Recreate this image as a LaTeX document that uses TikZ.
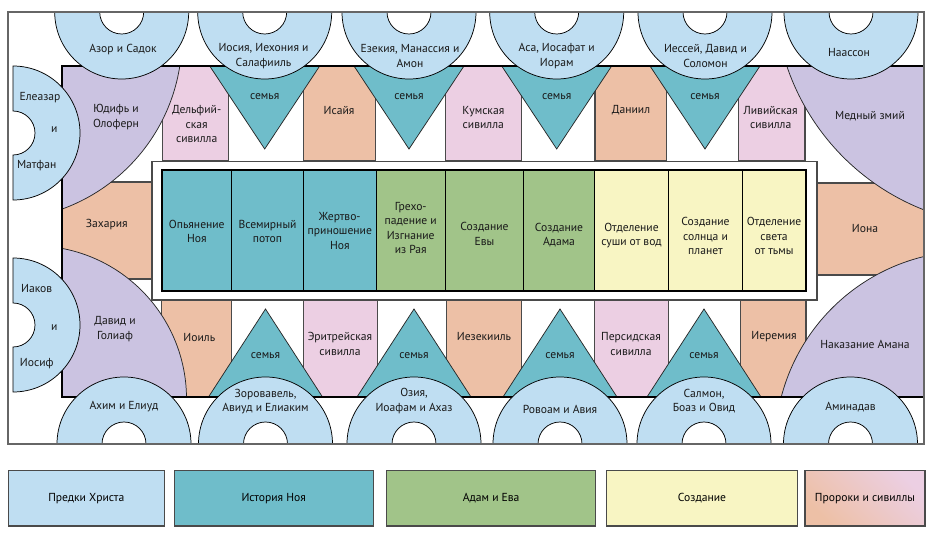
\documentclass[tikz,border=0pt]{standalone}
\usepackage{fontspec}
\setmainfont{PT Sans}
\definecolor{cblue}{HTML}{BFDEF2}
\definecolor{cteal}{HTML}{6FBDCA}
\definecolor{cgreen}{HTML}{A1C489}
\definecolor{cyellow}{HTML}{F8F5C3}
\definecolor{cpurple}{HTML}{CBC3E1}
\definecolor{corange}{HTML}{EDC0A6}
\definecolor{cpink}{HTML}{ECCFE3}
\definecolor{cedge}{HTML}{4A4A4A}
\newcommand{\lunTop}[1]{\path[lun] (#1-67,12) arc[start angle=180,end angle=0,radius=67] -- (#1+22,12) arc[start angle=0,end angle=180,radius=22] -- cycle;}
\newcommand{\lunBot}[1]{\path[lun] (#1-67,444) arc[start angle=180,end angle=360,radius=67] -- (#1+22,444) arc[start angle=0,end angle=-180,radius=22] -- cycle;}
\newcommand{\lunLeft}[1]{\path[lun] (13,#1-67) arc[start angle=-90,end angle=90,radius=67] -- (13,#1+22) arc[start angle=90,end angle=-90,radius=22] -- cycle;}
\newcommand{\triDown}[1]{\path[tri] (#1-55,66) -- (#1+55,66) -- (#1,149) -- cycle;}
\newcommand{\triUp}[1]{\path[tri] (#1-57,397) -- (#1+57,397) -- (#1,309) -- cycle;}
\begin{document}
\begin{tikzpicture}[x=0.75pt,y=-0.75pt,
  lun/.style={fill=cblue,draw=black,line width=0.55pt},
  tri/.style={fill=cteal,draw=black!85,line width=0.55pt},
  pend/.style={fill=cpurple,draw=black!85,line width=0.55pt},
  boxo/.style={fill=corange,draw=cedge,line width=0.8pt},
  boxp/.style={fill=cpink,draw=cedge,line width=0.8pt},
  wall/.style={draw=black,line width=0.8pt},
  panel/.style={draw=black,line width=0.6pt},
  lbl/.style={font=\fontsize{8.7}{10.7}\selectfont,align=center,inner sep=0pt,text=black!90},
  legbox/.style={draw=cedge,line width=0.8pt,font=\fontsize{8.7}{10.7}\selectfont,inner sep=0pt,minimum height=41.5pt}]
\useasboundingbox (0,0) rectangle (933,539);
% outer frame background
\fill[white] (8,12) rectangle (924,444);
% side prophets
\path[boxo] (62,182) rectangle (152,279);
\path[boxo] (817,183) rectangle (924,275);
% top row of prophets and sibyls
\path[boxp] (162.3,66) rectangle (228.7,161);
\path[boxo] (303.3,66) rectangle (375.3,161);
\path[boxp] (445.3,66) rectangle (521.7,161);
\path[boxo] (595,66) rectangle (666.7,161);
\path[boxp] (738.3,66) rectangle (805,161);
% bottom row
\path[boxo] (161.7,300) rectangle (231.7,397);
\path[boxp] (303.3,300) rectangle (377.7,397);
\path[boxo] (446.7,300) rectangle (521.7,397);
\path[boxp] (594.3,300) rectangle (668.3,397);
\path[boxo] (740.7,300) rectangle (806,397);
% corner pendentives
\path[pend] (62,66) -- (179.8,66) arc[start angle=8.85,end angle=70.08,radius=182] -- cycle;
\path[pend] (924,66) -- (786.8,66) arc[start angle=161.39,end angle=111.34,radius=235] -- cycle;
\path[pend] (62,397) -- (62,248.4) arc[start angle=-79.27,end angle=-0.64,radius=153] -- cycle;
\path[pend] (924,397) -- (924,256.5) arc[start angle=-103.64,end angle=-165.45,radius=195] -- cycle;
% spandrels
\triDown{264.7}\triDown{409}\triDown{556.7}\triDown{705}
\triUp{265.5}\triUp{414}\triUp{560}\triUp{704}
% wall lines
\draw[wall] (924,66) -- (62,66) -- (62,397) -- (924,397);
% lunettes
\lunTop{121.7}\lunTop{264.7}\lunTop{409}\lunTop{556.7}\lunTop{705}\lunTop{851}
\lunBot{124}\lunBot{265.5}\lunBot{414}\lunBot{560}\lunBot{704}\lunBot{850.5}
\lunLeft{133}\lunLeft{325}
% central vault
\path[fill=white,draw=cedge,line width=0.9pt] (152,161.5) rectangle (817,300);
\fill[cteal] (162,170) rectangle (376,291);
\fill[cgreen] (376,170) rectangle (594.5,291);
\fill[cyellow] (594.5,170) rectangle (806,291);
\foreach \xx in {231.5,303.5,376,445.5,523.5,594.5,668.5,742.5}
  \draw[panel] (\xx,170) -- (\xx,291);
\draw[draw=black,line width=1.5pt] (162,170) rectangle (806,291);
% outer frame
\draw[draw=black!60,line width=1.1pt] (8,12) rectangle (924,444);
% texts: lunettes
\node[lbl] (t1) at (123,49.5) {Азор и Садок};
\node[lbl] (t2) at (263.5,56) {Иосия, Иехония и\\Салафииль};
\node[lbl] (t3) at (410,56) {Езекия, Манассия и\\Амон};
\node[lbl] (t4) at (556.7,56) {Аса, Иосафат и\\Иорам};
\node[lbl] (t5) at (705.5,56) {Иессей, Давид и\\Соломон};
\node[lbl] (t6) at (849,52.7) {Наассон};
\node[lbl] (b1) at (124,406.7) {Ахим и Елиуд};
\node[lbl] (b2) at (265.5,401.7) {Зоровавель,\\Авиуд и Елиаким};
\node[lbl] (b3) at (414,401) {Озия,\\Иоафам и Ахаз};
\node[lbl] (b4) at (560,409.3) {Ровоам и Авия};
\node[lbl] (b5) at (704,401) {Салмон,\\Боаз и Овид};
\node[lbl] (b6) at (850.5,406.7) {Аминадав};
\node[lbl] (l1a) at (40,97.7) {Елеазар};
\node[lbl] (l1b) at (54.3,130) {и};
\node[lbl] (l1c) at (36.7,166) {Матфан};
\node[lbl] (l2a) at (36.7,288.3) {Иаков};
\node[lbl] (l2b) at (54.3,327.7) {и};
\node[lbl] (l2c) at (36.7,363.3) {Иосиф};
% spandrel texts
\foreach \xx [count=\i] in {264.7,409,556.7,705}
  \node[lbl] (sd\i) at (\xx,97) {семья};
\foreach \xx [count=\i] in {265.5,414,560,704}
  \node[lbl] (su\i) at (\xx,356) {семья};
% pendentives and side prophets
\node[lbl] (p1) at (116,117) {Юдифь и\\Олоферн};
\node[lbl] (p2) at (870,116) {Медный змий};
\node[lbl] (p3) at (115,329) {Давид и\\Голиаф};
\node[lbl] (p4) at (865,344.3) {Наказание Амана};
\node[lbl] (z1) at (106.7,224.3) {Захария};
\node[lbl] (z2) at (865,228.3) {Иона};
% prophets and sibyls
\node[lbl] (s1) at (196.7,124) {Дельфий-\\ская\\сивилла};
\node[lbl] (s2) at (339,110) {Исайя};
\node[lbl] (s3) at (483.3,117.5) {Кумская\\сивилла};
\node[lbl] (s4) at (631,110) {Даниил};
\node[lbl] (s5) at (770.7,117.5) {Ливийская\\сивилла};
\node[lbl] (s6) at (199.3,337.3) {Иоиль};
\node[lbl] (s7) at (340,344) {Эритрейская\\сивилла};
\node[lbl] (s8) at (484,336.7) {Иезекииль};
\node[lbl] (s9) at (631,344) {Персидская\\сивилла};
\node[lbl] (s10) at (774,336.7) {Иеремия};
% central panels
\node[lbl] (c1) at (196.8,231.7) {Опьянение\\Ноя};
\node[lbl] (c2) at (267.5,231.7) {Всемирный\\потоп};
\node[lbl] (c3) at (339.8,231) {Жертво-\\приношение\\Ноя};
\node[lbl] (c4) at (410.7,228) {Грехо-\\падение и\\Изгнание\\из Рая};
\node[lbl] (c5) at (484.5,234) {Создание\\Евы};
\node[lbl] (c6) at (559,235) {Создание\\Адама};
\node[lbl] (c7) at (631.5,235.5) {Отделение\\суши от вод};
\node[lbl] (c8) at (705.5,236) {Создание\\солнца и\\планет};
\node[lbl] (c9) at (774,236) {Отделение\\света\\от тьмы};
% legend
\node[legbox,fill=cblue,minimum width=117pt] (g1) at (86.3,498.3) {Предки Христа};
\node[legbox,fill=cteal,minimum width=149.5pt] (g2) at (273.7,498.3) {История Ноя};
\node[legbox,fill=cgreen,minimum width=156.75pt] (g3) at (491.2,498.3) {Адам и Ева};
\node[legbox,fill=cyellow,minimum width=143pt] (g4) at (702,498.3) {Создание};
\node[legbox,left color=corange,right color=cpink,shading angle=135,minimum width=90pt] (g5) at (865,498.3) {Пророки и сивиллы};
\end{tikzpicture}
\end{document}
